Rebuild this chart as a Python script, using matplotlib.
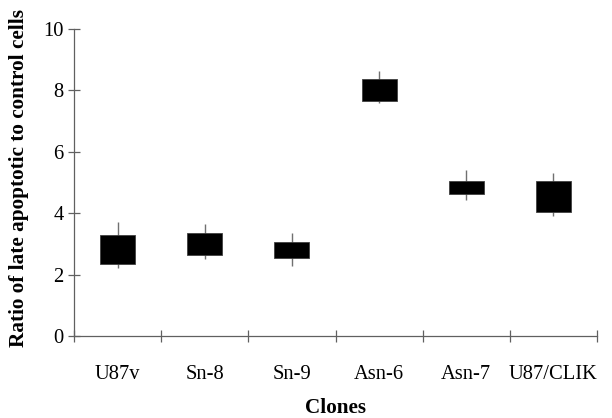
import matplotlib
matplotlib.use("Agg")
import matplotlib.pyplot as plt
import numpy as np

clones = ["U87v", "Sn-8", "Sn-9", "Asn-6", "Asn-7", "U87/CLIK"]
box_low = [2.35, 2.64, 2.53, 7.65, 4.63, 4.03]
box_high = [3.29, 3.36, 3.05, 8.37, 5.06, 5.06]
whisk_low = [2.21, 2.51, 2.28, 7.58, 4.43, 3.92]
whisk_high = [3.71, 3.64, 3.34, 8.64, 5.41, 5.32]
yticks = [0, 2, 4, 6, 8, 10]

plt.rcParams['font.family'] = ['Liberation Serif', 'DejaVu Serif']

fig = plt.figure(figsize=(6.12, 4.18), dpi=100)
ax = fig.add_axes([74/612, 1-336/418, (597-74)/612, (336-29)/418])

x = np.arange(len(clones)) + 0.5
ax.vlines(x, whisk_low, whisk_high, color='#707070', lw=1.0, zorder=1)
heights = [h - l for h, l in zip(box_high, box_low)]
ax.bar(x, heights, bottom=box_low, width=0.4, color='black',
       edgecolor='#404040', lw=0.6, zorder=2)

ax.set_xlim(0, len(clones))
ax.set_ylim(0, 10)
ax.set_yticks(yticks)
ax.set_yticklabels([str(v) for v in yticks])
ax.set_xticks(np.arange(len(clones) + 1))
ax.set_xticklabels([])
ax.set_xticks(x, minor=True)
ax.set_xticklabels(clones, minor=True)
ax.tick_params(axis='x', which='minor', length=0, pad=21, labelsize=14.8)
ax.tick_params(axis='x', which='major', direction='inout', length=8.6,
               width=0.9, color='#606060')
ax.tick_params(axis='y', direction='inout', length=8.6, width=0.9,
               color='#606060', labelsize=14.8, pad=3)

for s in ['top', 'right']:
    ax.spines[s].set_visible(False)
for s in ['left', 'bottom']:
    ax.spines[s].set_color('#606060')
    ax.spines[s].set_linewidth(0.9)

ax.set_xlabel("Clones", fontsize=15.2, fontweight='bold', labelpad=10)
ax.set_ylabel("Ratio of late apoptotic to control cells", fontsize=15.3,
              fontweight='bold')
ax.yaxis.set_label_coords(-0.086, 0.515)

fig.savefig("out.png", dpi=100)
